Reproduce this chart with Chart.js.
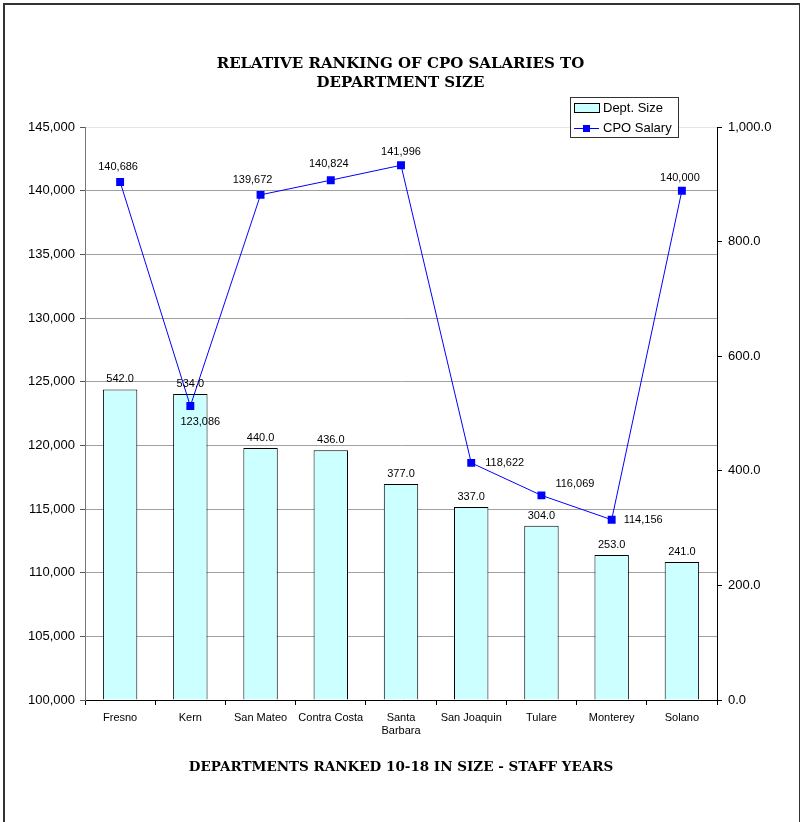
<!DOCTYPE html>
<html>
<head>
<meta charset="utf-8">
<script src="https://cdn.jsdelivr.net/npm/chart.js@4/dist/chart.umd.min.js"></script>
<style>
  body { margin: 0; background: #fff; }
  #wrap { position: relative; width: 801px; height: 822px; }
  #frame {
    position: absolute; left: 3px; top: 3px; width: 794px; height: 830px;
    border-left: 2px solid #333; border-top: 2px solid #333; border-right: 1px solid #333;
    pointer-events: none;
  }
</style>
</head>
<body>
<div id="wrap">
  <canvas id="myChart" width="801" height="822"></canvas>
  <div id="frame"></div>
</div>
<script>
const departments = ['Fresno', 'Kern', 'San Mateo', 'Contra Costa', ['Santa', 'Barbara'],
  'San Joaquin', 'Tulare', 'Monterey', 'Solano'];
const deptSize = [542, 534, 440, 436, 377, 337, 304, 253, 241];
const cpoSalary = [140686, 123086, 139672, 140824, 141996, 118622, 116069, 114156, 140000];

// where each salary label sits relative to its point: [dx, dy, align]
const salaryLabelPos = [
  [-2, -15, 'center'], [10, 16, 'center'], [-8, -15, 'center'], [-2, -16, 'center'],
  [0, -13, 'center'], [14, 0, 'left'], [14, -11, 'left'], [12, 0, 'left'], [-2, -13, 'center']
];

const font = "'Liberation Sans', Arial, sans-serif";
const serif = "'DejaVu Serif', serif";

const valueLabels = {
  id: 'valueLabels',
  afterDatasetsDraw(chart) {
    const ctx = chart.ctx;
    ctx.save();
    ctx.font = '11px ' + font;
    ctx.fillStyle = '#000';
    ctx.textBaseline = 'middle';
    chart.getDatasetMeta(0).data.forEach((bar, i) => {
      ctx.textAlign = 'center';
      ctx.fillText(deptSize[i].toFixed(1), bar.x, bar.y - 10);
    });
    chart.getDatasetMeta(1).data.forEach((pt, i) => {
      const p = salaryLabelPos[i];
      ctx.textAlign = p[2];
      ctx.fillText(cpoSalary[i].toLocaleString('en-US'), pt.x + p[0], pt.y + p[1]);
    });
    ctx.restore();
  }
};

const boxLegend = {
  id: 'boxLegend',
  afterDraw(chart) {
    const ctx = chart.ctx;
    const a = chart.chartArea;
    const x = a.right - 147, y = a.top - 30, w = 108, h = 40;
    ctx.save();
    ctx.fillStyle = '#fff';
    ctx.fillRect(x, y, w, h);
    ctx.strokeStyle = '#333';
    ctx.lineWidth = 1;
    ctx.strokeRect(x + 0.5, y + 0.5, w, h);
    // bar swatch
    ctx.fillStyle = '#CCFFFF';
    ctx.fillRect(x + 4.5, y + 6.5, 25, 9);
    ctx.strokeStyle = '#000';
    ctx.strokeRect(x + 4.5, y + 6.5, 25, 9);
    // line swatch
    ctx.strokeStyle = '#0000FF';
    ctx.beginPath();
    ctx.moveTo(x + 4, y + 31.5);
    ctx.lineTo(x + 29, y + 31.5);
    ctx.stroke();
    ctx.fillStyle = '#0000FF';
    ctx.fillRect(x + 13, y + 28, 7, 7);
    ctx.fillStyle = '#000';
    ctx.font = '13px ' + font;
    ctx.textBaseline = 'middle';
    ctx.textAlign = 'left';
    ctx.fillText('Dept. Size', x + 33, y + 11);
    ctx.fillText('CPO Salary', x + 33, y + 31);
    ctx.restore();
  }
};

const data = {
  labels: departments,
  datasets: [{
    type: 'bar',
    label: 'Dept. Size',
    data: deptSize,
    yAxisID: 'y1',
    backgroundColor: '#CCFFFF',
    borderColor: '#000',
    borderWidth: 1,
    categoryPercentage: 1,
    barPercentage: 0.49,
    order: 2
  }, {
    type: 'line',
    label: 'CPO Salary',
    data: cpoSalary,
    yAxisID: 'y',
    borderColor: '#0000FF',
    backgroundColor: '#0000FF',
    borderWidth: 1,
    pointStyle: 'rect',
    pointRadius: 5.6,
    pointBorderWidth: 0,
    tension: 0,
    order: 1
  }]
};

const config = {
  type: 'bar',
  data,
  options: {
    responsive: false,
    animation: false,
    layout: { padding: { left: 0, right: 0, top: 0, bottom: 46 } },
    plugins: {
      legend: { display: false },
      tooltip: { enabled: false },
      title: {
        display: true,
        text: ['RELATIVE RANKING OF CPO SALARIES TO', 'DEPARTMENT SIZE'],
        color: '#000',
        font: { family: serif, size: 15, weight: 'bold', lineHeight: 1.3 },
        padding: { top: 54, bottom: 34 }
      }
    },
    scales: {
      x: {
        afterFit: s => { s.height = 76; },
        offset: true,
        grid: { drawOnChartArea: false, tickLength: 5, tickColor: '#000', offset: true },
        border: { color: '#000' },
        ticks: { color: '#000', padding: 6, font: { family: font, size: 11, lineHeight: 1.2 }, maxRotation: 0, autoSkip: false },
        title: {
          display: true,
          text: 'DEPARTMENTS RANKED 10-18 IN SIZE - STAFF YEARS',
          color: '#000',
          font: { family: serif, size: 13.5, weight: 'bold', lineHeight: 1.2 },
          padding: 0
        }
      },
      y: {
        position: 'left',
        min: 100000,
        max: 145000,
        afterFit: s => { s.width = 85; },
        grid: {
          color: c => c.index === 9 ? '#e4e4e4' : '#a0a0a0',
          tickColor: '#555',
          tickLength: 5
        },
        border: { color: '#777' },
        ticks: {
          stepSize: 5000,
          padding: 5,
          color: '#000',
          font: { family: font, size: 13 },
          callback: v => v.toLocaleString('en-US')
        }
      },
      y1: {
        position: 'right',
        min: 0,
        max: 1000,
        afterFit: s => { s.width = 84; },
        grid: { drawOnChartArea: false, tickColor: '#000', tickLength: 5 },
        border: { color: '#000' },
        ticks: {
          stepSize: 200,
          padding: 6,
          color: '#000',
          font: { family: font, size: 13 },
          callback: v => v.toLocaleString('en-US', { minimumFractionDigits: 1, maximumFractionDigits: 1 })
        }
      }
    }
  },
  plugins: [valueLabels, boxLegend]
};

const myChart = new Chart(document.getElementById('myChart'), config);
</script>
</body>
</html>
